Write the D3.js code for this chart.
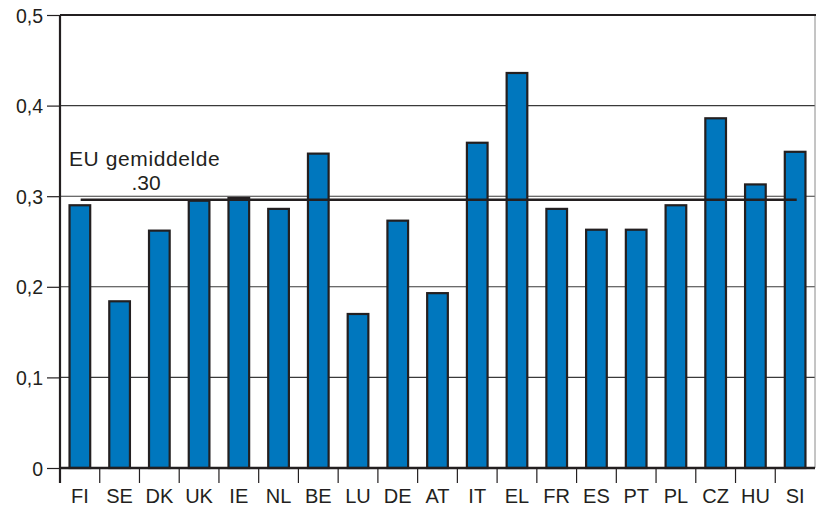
<!DOCTYPE html>
<html><head><meta charset="utf-8">
<script src="https://cdn.jsdelivr.net/npm/d3@7"></script>
<style>
html,body{margin:0;padding:0;background:#fff;}
svg{display:block;font-family:"Liberation Sans",Arial,Helvetica,sans-serif;}
</style></head>
<body><svg id="chart" width="816" height="508"></svg>
<script>
const categories = ["FI","SE","DK","UK","IE","NL","BE","LU","DE","AT","IT","EL","FR","ES","PT","PL","CZ","HU","SI"];
const values = [0.290,0.184,0.262,0.295,0.298,0.286,0.347,0.170,0.273,0.193,0.359,0.436,0.286,0.263,0.263,0.290,0.386,0.313,0.349];
const yTicks = [0,0.1,0.2,0.3,0.4,0.5];
const yTickLabels = ["0","0,1","0,2","0,3","0,4","0,5"];
const euAverage = 0.296;
const euLabel = ["EU gemiddelde", ".30"];

(function(){
const svg = d3.select("#chart");
const ink = "#231f20";
const pLeft = 60, pRight = 815, pTop = 15, pBottom = 468;

const x = d3.scaleBand().domain(categories).range([pLeft, pRight]).paddingInner(0.48).paddingOuter(0.24);
const xb = d3.scaleBand().domain(categories).range([pLeft, pRight]);
const y = d3.scaleLinear().domain([0, 0.5]).range([pBottom, pTop]);

// gridlines
svg.append("g").selectAll("line").data(yTicks.filter(d => d > 0 && d < 0.5)).join("line")
  .attr("x1", pLeft).attr("x2", pRight).attr("y1", d => y(d)).attr("y2", d => y(d))
  .attr("stroke", "#3a3a3a").attr("stroke-width", 1.1);

// right border
svg.append("line").attr("x1", pRight).attr("x2", pRight).attr("y1", pTop).attr("y2", pBottom)
  .attr("stroke", "#8a8a8a").attr("stroke-width", 1);

// top line
svg.append("line").attr("x1", pLeft).attr("x2", 816).attr("y1", y(0.5)).attr("y2", y(0.5))
  .attr("stroke", ink).attr("stroke-width", 2.2);

// bars
svg.append("g").selectAll("rect").data(categories).join("rect")
  .attr("x", d => x(d)).attr("width", x.bandwidth())
  .attr("y", (d, i) => y(values[i])).attr("height", (d, i) => y(0) - y(values[i]))
  .attr("fill", "#0077be").attr("stroke", ink).attr("stroke-width", 2.2);

// EU average line (from first to last bar centre)
svg.append("line")
  .attr("x1", xb(categories[0]) + xb.bandwidth() * 0.52)
  .attr("x2", xb(categories[categories.length - 1]) + xb.bandwidth() * 0.54)
  .attr("y1", y(euAverage)).attr("y2", y(euAverage))
  .attr("stroke", ink).attr("stroke-width", 2.4);

svg.append("text").attr("x", 69).attr("y", 166).text(euLabel[0])
  .attr("font-size", 21).attr("fill", ink).attr("letter-spacing", 0.6);
svg.append("text").attr("x", 146).attr("y", 190).attr("text-anchor", "middle").text(euLabel[1])
  .attr("font-size", 21).attr("fill", ink);

// y axis
const yAxis = d3.axisLeft(y).tickValues(yTicks).tickFormat((d, i) => yTickLabels[i]).tickSize(13).tickPadding(4);
const gy = svg.append("g").attr("transform", `translate(${pLeft},0)`).call(yAxis);
gy.select(".domain").attr("stroke", ink).attr("stroke-width", 2.2).attr("d", `M0,${pTop}V${pBottom + 15}`);
gy.selectAll(".tick line").attr("stroke", ink).attr("stroke-width", 1.2);
gy.selectAll(".tick text").attr("font-size", 19.5).attr("fill", ink)
  .attr("font-family", "'Liberation Sans',Arial,sans-serif").attr("dy", "0.36em");

// x axis
const gx = svg.append("g").attr("transform", `translate(0,${pBottom})`);
gx.append("line").attr("x1", pLeft).attr("x2", pRight).attr("y1", 0).attr("y2", 0)
  .attr("stroke", ink).attr("stroke-width", 2.4);
gx.selectAll("line.tk").data(categories.slice(1)).join("line").attr("class", "tk")
  .attr("x1", d => xb(d)).attr("x2", d => xb(d)).attr("y1", 0).attr("y2", 15)
  .attr("stroke", ink).attr("stroke-width", 1.2);
gx.selectAll("text.lb").data(categories).join("text").attr("class", "lb")
  .attr("x", d => xb(d) + xb.bandwidth() / 2).attr("y", 35)
  .attr("text-anchor", "middle").attr("font-size", 20).attr("fill", ink)
  .text(d => d);
})();
</script></body></html>
